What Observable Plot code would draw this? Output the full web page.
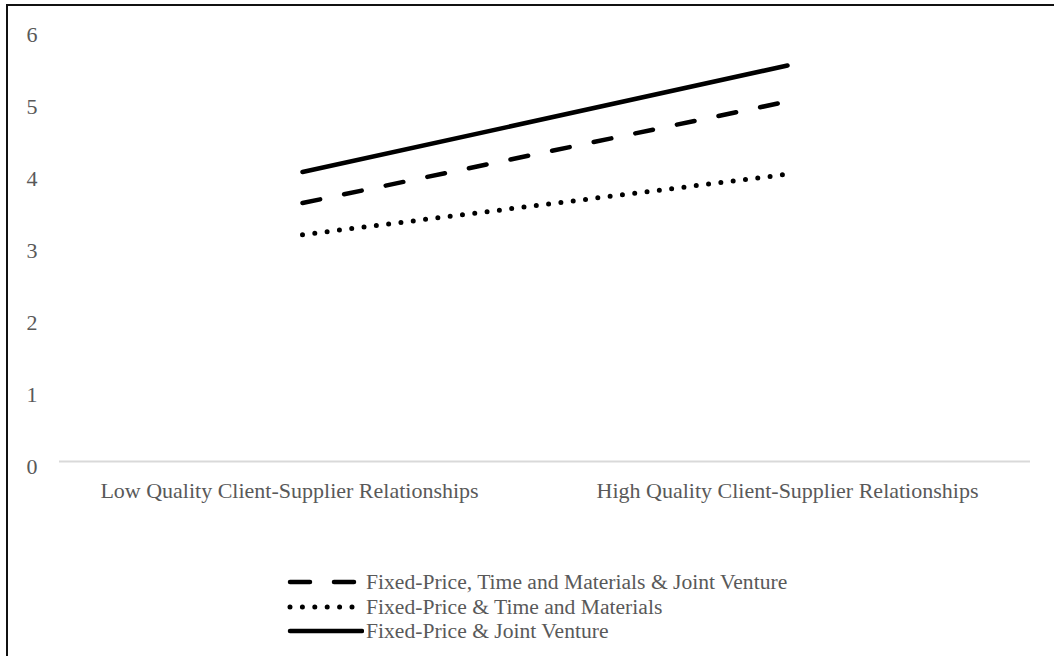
<!DOCTYPE html>
<html>
<head>
<meta charset="utf-8">
<script src="https://cdn.jsdelivr.net/npm/d3@7"></script>
<script src="https://cdn.jsdelivr.net/npm/@observablehq/plot@0.6"></script>
<style>
  html, body { margin: 0; padding: 0; background: #fff; }
  #frame { position: absolute; left: 6px; top: 4px; width: 1200px; height: 800px;
           border-left: 2px solid #111; border-top: 2px solid #111; }
  #chart { position: absolute; left: 0; top: 0; }
  #legend { position: absolute; left: 286px; top: 570px; font-family: "Liberation Serif", "Times New Roman", serif;
            font-size: 21.6px; color: #595959; }
  .row { display: flex; align-items: center; height: 24.5px; line-height: 24px; }
  .row svg { margin-right: 2px; }
</style>
</head>
<body>
<div id="frame"></div>
<div id="chart"></div>
<div id="legend"></div>
<script>
const categories = ["Low Quality Client-Supplier Relationships", "High Quality Client-Supplier Relationships"];
const seriesNames = [
  "Fixed-Price, Time and Materials & Joint Venture",
  "Fixed-Price & Time and Materials",
  "Fixed-Price & Joint Venture"
];
const valuesFPTMJV = [3.59, 5.0];
const valuesFPTM = [3.15, 3.99];
const valuesFPJV = [4.02, 5.5];
const yTicks = [0, 1, 2, 3, 4, 5, 6];

const styles = [
  {dash: "18,24.5", width: 4.5},
  {dash: "0,12.4", width: 5},
  {dash: null, width: 4.5}
];
const seriesValues = [valuesFPTMJV, valuesFPTM, valuesFPJV];
const tables = seriesValues.map((vals, i) => categories.map((c, j) => ({category: c, value: vals[j], series: seriesNames[i]})));

const lineMarks = tables.map((t, i) => Plot.line(t, {
  x: "category", y: "value", stroke: "#000", strokeWidth: styles[i].width,
  strokeDasharray: styles[i].dash || undefined, strokeLinecap: "round"
}));

const plot = Plot.plot({
  width: 1054,
  height: 511,
  marginLeft: 59,
  marginRight: 24,
  marginTop: 29,
  marginBottom: 50,
  style: {fontFamily: "'Liberation Serif', 'Times New Roman', serif", fontSize: "22px", color: "#595959", background: "transparent"},
  x: {type: "point", domain: categories, padding: 0.5, label: null},
  y: {domain: [0, 6], label: null},
  marks: [
    Plot.ruleY([0], {stroke: "#d9d9d9", strokeWidth: 2}),
    Plot.axisY({ticks: yTicks, tickFormat: d3.format("d"), tickSize: 0, tickPadding: 22, dy: 5, label: null, fill: "#595959", fontSize: 22}),
    Plot.axisX([categories[0]], {tickSize: 0, tickPadding: 21, dx: -13, label: null, fill: "#595959", fontSize: 22}),
    Plot.axisX([categories[1]], {tickSize: 0, tickPadding: 21, label: null, fill: "#595959", fontSize: 22}),
    ...lineMarks
  ]
});
document.getElementById("chart").appendChild(plot);

// Legend
const legend = document.getElementById("legend");
seriesNames.forEach((name, i) => {
  const row = document.createElement("div");
  row.className = "row";
  const s = d3.create("svg").attr("width", 78).attr("height", 10);
  const ln = s.append("line").attr("x1", 4).attr("x2", 76).attr("y1", 5).attr("y2", 5)
    .attr("stroke", "#000").attr("stroke-width", styles[i].width).attr("stroke-linecap", "round");
  if (i === 0) ln.attr("stroke-dasharray", "20,24");
  if (i === 1) ln.attr("stroke-dasharray", "0,12.4");
  row.appendChild(s.node());
  const span = document.createElement("span");
  span.textContent = name;
  row.appendChild(span);
  legend.appendChild(row);
});
</script>
</body>
</html>
